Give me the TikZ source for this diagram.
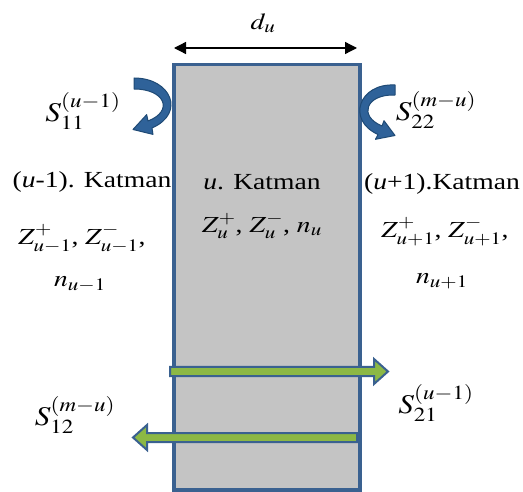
\documentclass[tikz,border=0pt]{standalone}
\usepackage{mathptmx}
\usepackage{fontspec}
\setmainfont{Liberation Serif}
\DeclareMathSizes{23}{23}{17.5}{13}
\DeclareMathSizes{27}{27}{20}{15}
\usetikzlibrary{arrows.meta}
\definecolor{rectblue}{HTML}{3A6190}
\definecolor{rectfill}{HTML}{C4C4C4}
\definecolor{arcfill}{HTML}{2F6299}
\definecolor{arcline}{HTML}{1F4A75}
\definecolor{arrgreen}{HTML}{8CB845}
\begin{document}
\begin{tikzpicture}[x=1pt,y=-1pt,
  lbl/.style={font=\fontsize{23}{27}\selectfont, xscale=1.2, inner sep=0pt},
  slbl/.style={font=\fontsize{27}{32}\selectfont, xscale=1.15, inner sep=0pt},
  layer/.style={draw=rectblue, line width=3.5pt, fill=rectfill},
  curvearr/.style={fill=arcfill, draw=arcline, line width=1pt, line join=round},
  greenarr/.style={fill=arrgreen, draw=rectblue, line width=2pt, line join=miter},
  dimline/.style={line width=1.3pt, {Triangle[length=12pt,width=12pt]}-{Triangle[length=12pt,width=12pt]}}]
\useasboundingbox (0,0) rectangle (523,492);
% layer rectangle
\node[layer, minimum width=186pt, minimum height=425pt, anchor=north west, inner sep=0pt] (rect) at (172,63) {};
% width dimension
\coordinate (dl) at (174,48);
\coordinate (dr) at (357,48);
\draw[dimline] (dl) -- (dr);
\node[lbl] (du) at (263,23) {$d_u$};
% curved arrows
\draw[curvearr] (134,89) .. controls (165,89) and (174,111) .. (148,121)
  -- (146.7,114.6) -- (133,129.5) -- (153,134.4) -- (152,128)
  .. controls (186,113) and (171,78) .. (134,78) -- cycle;
\draw[curvearr] (395,95) .. controls (366,94) and (358,116) .. (382,126)
  -- (384,120.7) -- (395,135.5) -- (375.5,139.3) -- (378,134.5)
  .. controls (346,120) and (359,83) .. (395,85) -- cycle;
% green arrows
\draw[greenarr] (170,367) -- (374,367) -- (374,359) -- (388,371.5) -- (374,384) -- (374,376) -- (170,376) -- cycle;
\draw[greenarr] (357,433) -- (147,433) -- (147,425) -- (133,437.5) -- (147,450) -- (147,442) -- (357,442) -- cycle;
% labels
\node[slbl] (s11) at (83,111) {$S_{11}^{(u-1)}$};
\node[slbl] (s22) at (436,110) {$S_{22}^{(m-u)}$};
\node[slbl] (s12) at (75,415) {$S_{12}^{(m-u)}$};
\node[slbl] (s21) at (436,403) {$S_{21}^{(u-1)}$};
\node[lbl] (k1) at (92,182) {(\textit{u}-1). Katman};
\node[lbl] (z1) at (82,239) {$Z^{+}_{u-1}$, $Z^{-}_{u-1}$,};
\node[lbl] (n1) at (80,284) {$n_{u-1}$};
\node[lbl] (k2) at (262,182) {\textit{u}. Katman};
\node[lbl] (z2) at (262,226) {$Z^{+}_{u}$, $Z^{-}_{u}$, $n_u$};
\node[lbl] (k3) at (442,184) {(\textit{u}+1).Katman};
\node[lbl] (z3) at (445,232) {$Z^{+}_{u+1}$, $Z^{-}_{u+1}$,};
\node[lbl] (n3) at (442,281) {$n_{u+1}$};
\end{tikzpicture}
\end{document}
